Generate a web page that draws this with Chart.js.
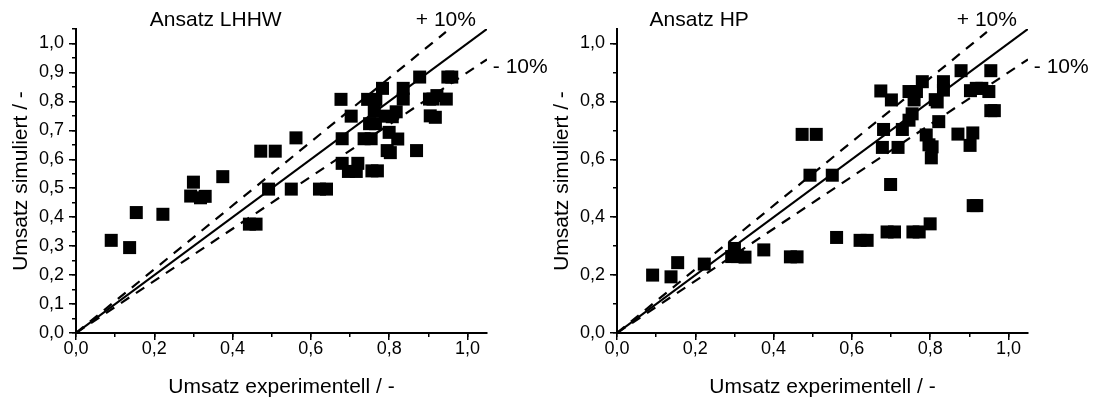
<!DOCTYPE html>
<html>
<head>
<meta charset="utf-8">
<script src="https://cdn.jsdelivr.net/npm/chart.js@4.4.1/dist/chart.umd.min.js"></script>
<style>
  html, body { margin: 0; padding: 0; background: #fff; }
  #wrap { position: relative; width: 1096px; height: 399px; overflow: hidden; }
  .panel { position: absolute; top: 0; width: 555px; height: 399px; }
</style>
</head>
<body>
<div id="wrap">
  <div class="panel" style="left:0"><canvas id="lhhwChart" width="555" height="399"></canvas></div>
  <div class="panel" style="left:541px"><canvas id="hpChart" width="555" height="399"></canvas></div>
</div>
<script>
// Ansatz LHHW: experimenteller vs. simulierter Umsatz
const lhhwX = [0.090, 0.137, 0.154, 0.222, 0.300, 0.293, 0.318, 0.330, 0.375, 0.472,
  0.509, 0.562, 0.492, 0.550, 0.443, 0.460, 0.622, 0.640, 0.677, 0.703,
  0.680, 0.680, 0.696, 0.716, 0.720, 0.736, 0.754, 0.745, 0.766, 0.783,
  0.762, 0.750, 0.765, 0.756, 0.770, 0.790, 0.800, 0.795, 0.803, 0.818,
  0.808, 0.822, 0.836, 0.836, 0.878, 0.870, 0.903, 0.912, 0.922, 0.905,
  0.918, 0.946, 0.950, 0.960]
const lhhwY = [0.320, 0.295, 0.416, 0.410, 0.521, 0.473, 0.467, 0.472, 0.540, 0.628,
  0.628, 0.674, 0.497, 0.497, 0.376, 0.376, 0.497, 0.497, 0.807, 0.749,
  0.671, 0.586, 0.558, 0.558, 0.586, 0.671, 0.671, 0.807, 0.807, 0.845,
  0.766, 0.723, 0.723, 0.560, 0.560, 0.749, 0.693, 0.630, 0.623, 0.764,
  0.747, 0.670, 0.845, 0.808, 0.884, 0.630, 0.808, 0.808, 0.820, 0.750,
  0.745, 0.808, 0.884, 0.884]

// Ansatz HP
const hpX = [0.091, 0.138, 0.155, 0.223, 0.300, 0.293, 0.308, 0.327, 0.375, 0.443,
  0.460, 0.473, 0.509, 0.493, 0.550, 0.561, 0.621, 0.639, 0.674, 0.701,
  0.681, 0.678, 0.699, 0.690, 0.709, 0.718, 0.729, 0.746, 0.754, 0.746,
  0.765, 0.759, 0.780, 0.756, 0.772, 0.790, 0.797, 0.805, 0.803, 0.800,
  0.813, 0.818, 0.822, 0.834, 0.834, 0.871, 0.879, 0.903, 0.918, 0.932,
  0.909, 0.902, 0.910, 0.919, 0.950, 0.955, 0.955, 0.964]
const hpY = [0.200, 0.194, 0.243, 0.238, 0.292, 0.264, 0.264, 0.262, 0.287, 0.263,
  0.263, 0.686, 0.686, 0.545, 0.545, 0.330, 0.320, 0.320, 0.836, 0.805,
  0.703, 0.641, 0.513, 0.349, 0.349, 0.641, 0.703, 0.735, 0.757, 0.834,
  0.834, 0.805, 0.868, 0.349, 0.349, 0.684, 0.650, 0.643, 0.605, 0.377,
  0.806, 0.798, 0.730, 0.868, 0.839, 0.687, 0.906, 0.837, 0.845, 0.845,
  0.691, 0.648, 0.440, 0.440, 0.834, 0.906, 0.768, 0.768]

// Winkelhalbierende und +/- 10% Linien (Endpunkte)
const lineX = [0, 1.05]
const lineY = [0, 1.05]
const plusX = [0, 0.945]
const plusY = [0, 1.04]
const minusX = [0, 1.05]
const minusY = [0, 0.945]

const axisMax = 1.05

Chart.defaults.color = '#000'
Chart.defaults.font.family = 'Arial, "Liberation Sans", sans-serif'
Chart.defaults.animation = false

const fmt = v => v.toFixed(1).replace('.', ',')
const pts = (xs, ys) => xs.map((x, i) => ({ x, y: ys[i] }))

// Titel und Beschriftungen an Datenkoordinaten
const notesPlugin = {
  id: 'notes',
  afterDraw(chart, args, opts) {
    const { ctx, scales: { x, y } } = chart
    ctx.save()
    ctx.fillStyle = '#000'
    ctx.font = '21px Arial, "Liberation Sans", sans-serif'
    ctx.textAlign = 'center'
    ctx.textBaseline = 'middle'
    opts.items.forEach(n => {
      ctx.fillText(n.text, x.getPixelForValue(n.x), y.getPixelForValue(n.y))
    })
    ctx.restore()
  }
}

const makeChart = (id, xs, ys, title, titleX, yStep, yMinor) => {
  const data = {
    datasets: [
      {
        data: pts(xs, ys),
        pointStyle: 'rect',
        pointRadius: 9.2,
        pointHoverRadius: 9.2,
        backgroundColor: '#000',
        borderWidth: 0
      },
      { data: pts(lineX, lineY), showLine: true, pointRadius: 0, borderColor: '#000', borderWidth: 2.2 },
      { data: pts(plusX, plusY), showLine: true, pointRadius: 0, borderColor: '#000', borderWidth: 2.2, borderDash: [10, 8] },
      { data: pts(minusX, minusY), showLine: true, pointRadius: 0, borderColor: '#000', borderWidth: 2.2, borderDash: [10, 8] }
    ]
  }

  const options = {
    responsive: false,
    devicePixelRatio: 1,
    layout: { padding: { left: 0, right: 68, top: 29, bottom: 0 } },
    plugins: {
      legend: { display: false },
      tooltip: { enabled: false },
      notes: {
        items: [
          { text: title, x: titleX, y: 1.081 },
          { text: '+ 10%', x: 0.945, y: 1.081 },
          { text: '- 10%', x: 1.135, y: 0.918 }
        ]
      }
    },
    scales: {
      x: {
        type: 'linear', position: 'bottom', weight: 1,
        min: 0, max: axisMax,
        border: { display: true, color: '#000', width: 2 },
        grid: { drawOnChartArea: false, drawTicks: true, tickLength: 7, color: '#000', lineWidth: 1.5 },
        ticks: { stepSize: 0.2, includeBounds: false, autoSkip: false, maxRotation: 0,
          padding: 0, font: { size: 18, lineHeight: 1 }, callback: fmt },
        title: { display: true, text: 'Umsatz experimentell / -', font: { size: 21, lineHeight: 1.15 }, padding: 0 },
        afterFit: s => { s.height = 66 }
      },
      xMinor: {
        type: 'linear', position: 'bottom', weight: 0,
        min: 0, max: axisMax,
        border: { display: false },
        grid: { drawOnChartArea: false, drawTicks: true, tickLength: 4, color: '#000', lineWidth: 1.5 },
        ticks: { stepSize: 0.1, includeBounds: false, autoSkip: false, display: false },
        afterFit: s => { s.height = 0 }
      },
      y: {
        type: 'linear', position: 'left', weight: 1,
        min: 0, max: axisMax,
        border: { display: true, color: '#000', width: 2 },
        grid: { drawOnChartArea: false, drawTicks: true, tickLength: 7, color: '#000', lineWidth: 1.5 },
        ticks: { stepSize: yStep, includeBounds: false, autoSkip: false,
          padding: 5, font: { size: 18 }, callback: fmt },
        title: { display: true, text: 'Umsatz simuliert / -', font: { size: 21, lineHeight: 1.2 }, padding: { top: 9, bottom: 0 } },
        afterFit: s => { s.width = 76 }
      },
      yMinor: {
        type: 'linear', position: 'left', weight: 0,
        min: 0, max: axisMax,
        border: { display: false },
        grid: { drawOnChartArea: false, drawTicks: true, tickLength: 4, color: '#000', lineWidth: 1.5 },
        ticks: { stepSize: yMinor, includeBounds: false, autoSkip: false, display: false },
        afterFit: s => { s.width = 0 }
      }
    }
  }

  return new Chart(id, { type: 'scatter', data, options, plugins: [notesPlugin] })
}

makeChart('lhhwChart', lhhwX, lhhwY, 'Ansatz LHHW', 0.357, 0.1, 0.05)
makeChart('hpChart', hpX, hpY, 'Ansatz HP', 0.21, 0.2, 0.1)
</script>
</body>
</html>
